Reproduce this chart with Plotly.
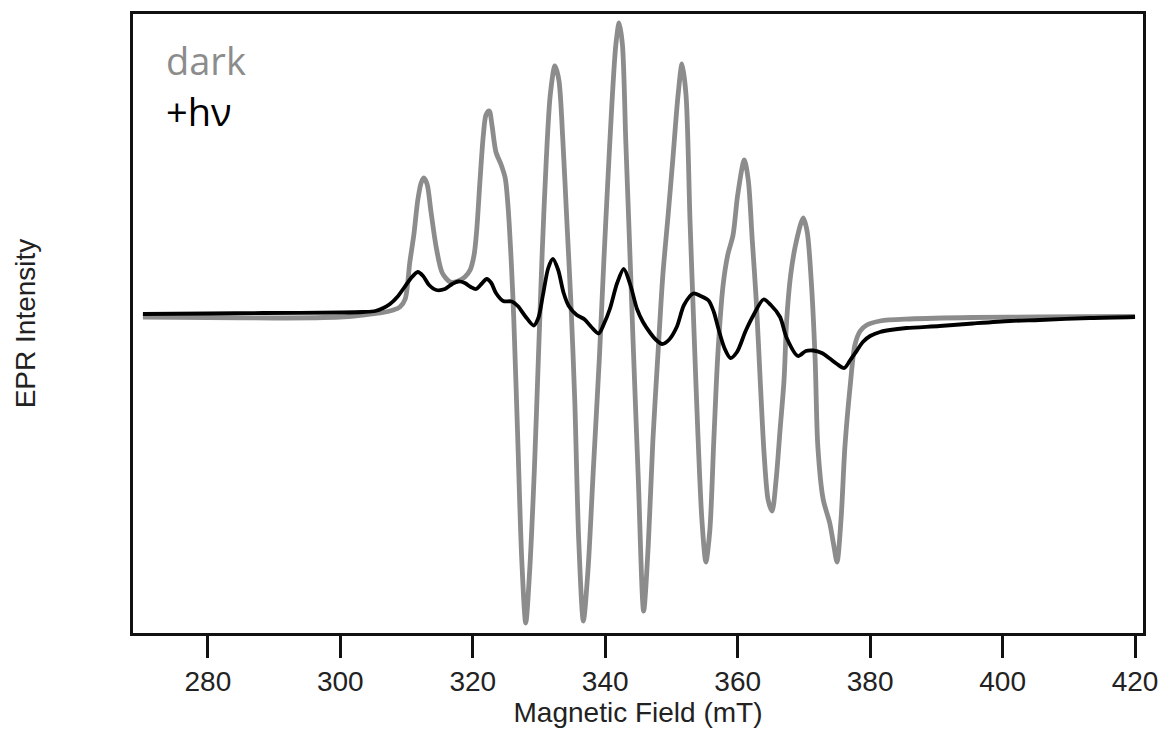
import plotly.graph_objects as go

# Magnetic field (mT) and EPR intensity (arbitrary units)
dark_field = [270.2, 280.0, 290.0, 300.0, 303.4, 306.0, 308.0, 309.0, 309.8, 310.5,
              311.1, 311.7, 312.2, 312.6, 313.1, 313.7, 314.5, 315.4, 316.6, 317.8,
              318.8, 319.6, 320.2, 320.6, 321.1, 321.6, 322.0, 322.5, 322.9, 323.5,
              324.3, 324.9, 325.3, 325.8, 326.2, 326.8, 327.4, 328.0, 328.6, 329.3,
              329.9, 330.5, 331.1, 331.7, 332.4, 333.0, 333.6, 334.2, 334.8, 335.4,
              336.0, 336.7, 337.4, 338.2, 339.1, 339.8, 340.4, 341.0, 341.6, 342.1,
              342.6, 343.1, 343.6, 344.2, 345.0, 345.8, 346.5, 347.2, 348.0, 348.7,
              349.5, 350.2, 351.0, 351.6, 352.2, 352.8, 353.4, 354.0, 354.6, 355.2,
              355.8, 356.4, 357.0, 357.8, 358.5, 359.3, 360.0, 361.0, 361.6, 362.2,
              362.8, 363.4, 364.0, 364.6, 365.2, 365.8, 366.4, 367.0, 367.4, 368.0,
              368.8, 369.9, 370.5, 371.1, 371.7, 372.1, 372.9, 373.9, 374.5, 375.0,
              375.6, 376.2, 377.0, 377.7, 378.5, 379.5, 381.5, 386.0, 395.5, 405.6,
              420.0]
dark_intensity = [-1, -1.5, -2, -1, 1, 3, 6, 9, 17, 54,
                  81, 116, 133, 138, 132, 104, 68, 43, 34, 35,
                  39, 46, 61, 86, 136, 181, 201, 205, 191, 164,
                  151, 138, 112, 56, -4, -124, -244, -307, -254, -154,
                  -44, 66, 156, 221, 250, 236, 176, 96, 16, -84,
                  -224, -305, -254, -154, -44, 56, 136, 211, 271, 293,
                  271, 176, 86, -24, -164, -295, -229, -124, -34, 41,
                  101, 156, 221, 252, 221, 96, -14, -119, -204, -246,
                  -214, -124, -39, 31, 61, 81, 121, 156, 136, 76,
                  16, -64, -139, -184, -195, -164, -114, -64, -4, 41,
                  73, 98, 84, 36, -44, -130, -183, -207, -229, -246,
                  -204, -130, -69, -29, -15, -9, -5, -3, -1.5, -1,
                  -0.5]

light_field = [270.2, 280.0, 288.3, 300.0, 303.4, 305.3, 306.5, 307.5, 308.6, 309.6,
               310.7, 311.7, 312.5, 313.4, 314.5, 315.8, 316.9, 317.8, 318.8, 319.7,
               320.5, 321.3, 322.1, 322.8, 323.5, 324.6, 325.9, 326.8, 327.9, 329.2,
               329.9, 330.6, 331.4, 332.1, 332.9, 333.7, 334.5, 335.7, 336.9, 337.9,
               339.0, 339.8, 340.7, 341.8, 342.8, 343.8, 344.8, 345.7, 346.8, 347.7,
               348.6, 349.6, 350.8, 351.9, 353.3, 354.4, 355.6, 356.4, 357.1, 358.0,
               358.9, 359.9, 361.2, 362.4, 363.9, 365.0, 366.4, 367.4, 369.1, 370.3,
               371.4, 372.7, 373.9, 375.0, 376.1, 377.0, 378.0, 378.9, 380.0, 381.5,
               383.0, 385.5, 390.5, 395.5, 401.1, 405.6, 413.2, 420.0]
light_intensity = [2, 2.5, 3, 3.5, 4, 5, 8, 12, 19, 28,
                   38, 44, 40, 31, 26, 27, 32, 34.5, 33, 29,
                   27, 32, 37, 33, 23, 15, 14.5, 10, 0, -9.5,
                   -2, 21, 48, 57, 46, 23.5, 10, 1, -3.5, -11,
                   -17.5, -8, 7, 33, 47, 31, 7, -6, -17, -24,
                   -28, -24, -11, 11, 22.5, 20, 15.5, 4, -13, -32,
                   -42, -36, -15, 1, 16.5, 11, -1, -22, -40, -35,
                   -34.5, -37, -42.5, -48, -52, -44, -34.6, -26, -20, -16,
                   -14, -12, -10, -7.5, -5, -4, -2, -1]

x_ticks = [280, 300, 320, 340, 360, 380, 400, 420]
series_names = ["dark", "+hν"]
series_colors = ["#8c8c8c", "#000000"]

AXIS_FONT = "Liberation Sans, Arial, sans-serif"

fig = go.Figure()
fig.add_trace(go.Scatter(x=dark_field, y=dark_intensity, mode="lines", name=series_names[0],
                         line=dict(color=series_colors[0], width=4.8, shape="spline", smoothing=0.8)))
fig.add_trace(go.Scatter(x=light_field, y=light_intensity, mode="lines", name=series_names[1],
                         line=dict(color=series_colors[1], width=3.8, shape="spline", smoothing=0.8)))

fig.update_layout(
    width=1164, height=742,
    margin=dict(l=133, r=21, t=14, b=109),
    paper_bgcolor="white", plot_bgcolor="white",
    showlegend=False,
    xaxis=dict(range=[268.7, 421.2], tickvals=x_ticks, ticks="outside", ticklen=22,
               tickwidth=2.5, tickcolor="#111", showline=True, linewidth=2.5, linecolor="#111",
               mirror=True, showgrid=False, zeroline=False, automargin=False,
               tickfont=dict(family=AXIS_FONT, size=28, color="#222"),
               title=dict(text="Magnetic Field (mT)", standoff=4,
                          font=dict(family=AXIS_FONT, size=28, color="#222"))),
    yaxis=dict(range=[-317, 302], showticklabels=False, ticks="", showline=True,
               linewidth=2.5, linecolor="#111", mirror=True, showgrid=False, zeroline=False,
               automargin=False,
               title=dict(text="EPR Intensity", standoff=87,
                          font=dict(family=AXIS_FONT, size=28, color="#222"))),
    annotations=[
        dict(text=series_names[0], xref="paper", yref="paper", x=0.031, y=0.926,
             xanchor="left", yanchor="middle", showarrow=False,
             font=dict(family="Open Sans, sans-serif", size=38, color=series_colors[0])),
        dict(text=series_names[1], xref="paper", yref="paper", x=0.031, y=0.844,
             xanchor="left", yanchor="middle", showarrow=False,
             font=dict(family="Open Sans, sans-serif", size=38, color=series_colors[1])),
    ],
)

fig.write_html("out.html", config={"displayModeBar": False},
               post_script="document.body.style.margin='0px';document.body.style.overflow='hidden';")
